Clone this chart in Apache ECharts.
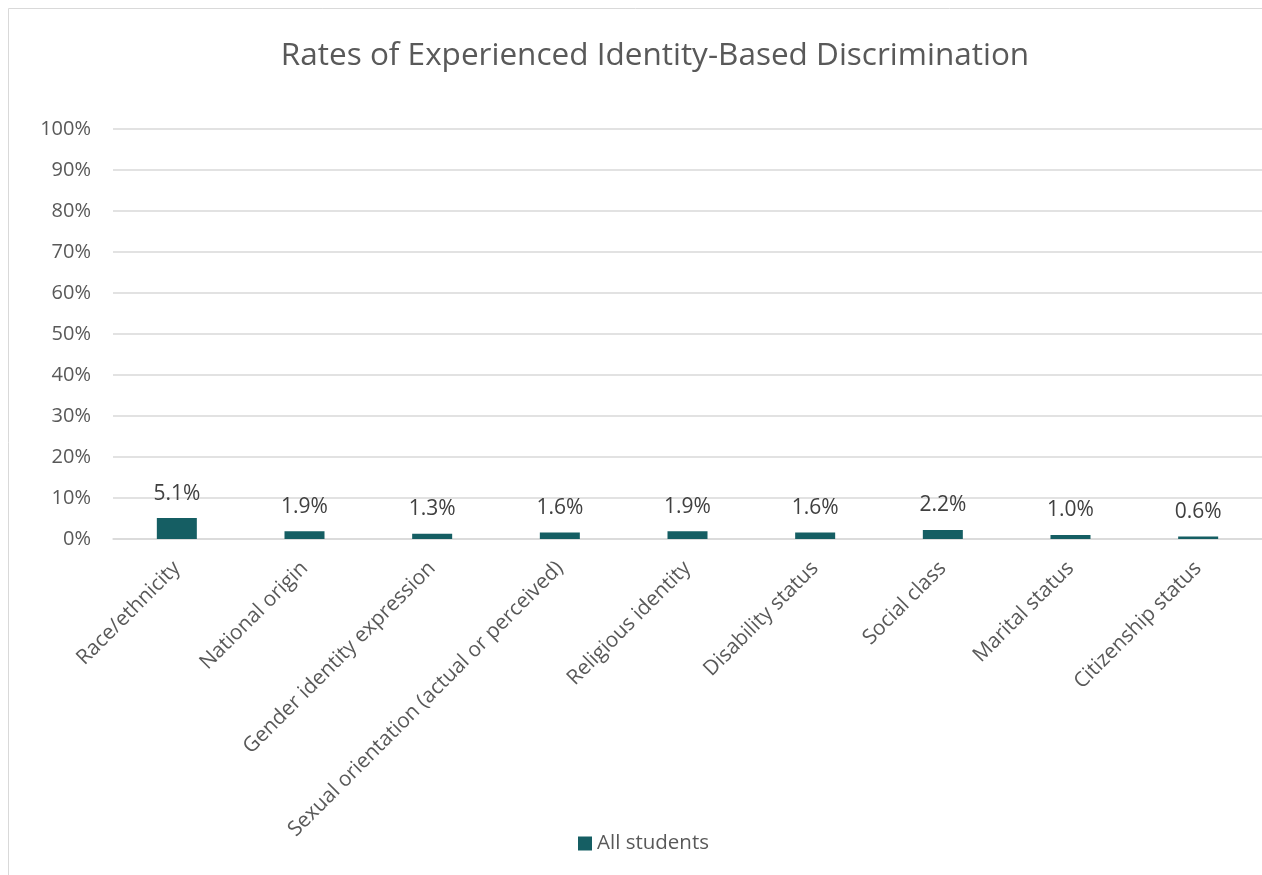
<!DOCTYPE html>
<html>
<head>
<meta charset="utf-8">
<script src="https://cdn.jsdelivr.net/npm/echarts@6/dist/echarts.min.js"></script>
<style>
  html, body { margin: 0; padding: 0; background: #fff; }
  #main { width: 1262px; height: 875px; }
</style>
</head>
<body>
<div id="main"></div>
<script>
const categories = [
  'Race/ethnicity',
  'National origin',
  'Gender identity expression',
  'Sexual orientation (actual or perceived)',
  'Religious identity',
  'Disability status',
  'Social class',
  'Marital status',
  'Citizenship status'
];
const allStudents = [5.1, 1.9, 1.3, 1.6, 1.9, 1.6, 2.2, 1.0, 0.6];
const seriesName = 'All students';
const titleText = 'Rates of Experienced Identity-Based Discrimination';

const FONT = 'Open Sans';
const chart = echarts.init(document.getElementById('main'));

const option = {
  animation: false,
  textStyle: { fontFamily: FONT },
  graphic: [
    {
      type: 'rect',
      shape: { x: 8.5, y: 8.5, width: 1300, height: 900 },
      style: { fill: 'none', stroke: '#d9d9d9', lineWidth: 1 },
      silent: true
    }
  ],
  title: {
    text: titleText,
    left: 650,
    textAlign: 'center',
    top: 35,
    textStyle: { fontFamily: FONT, fontSize: 31.5, fontWeight: 'normal', color: '#595959' }
  },
  legend: {
    data: [seriesName],
    left: 573,
    top: 828,
    icon: 'rect',
    itemWidth: 14,
    itemHeight: 14,
    itemGap: 6,
    textStyle: { fontFamily: FONT, fontSize: 20.5, color: '#595959' }
  },
  grid: {
    left: 113,
    top: 129,
    width: 1152,
    height: 410,
    containLabel: false
  },
  xAxis: {
    type: 'category',
    data: categories,
    axisLine: { lineStyle: { color: '#d9d9d9', width: 1.5 } },
    axisTick: { show: false },
    axisLabel: {
      rotate: 45,
      interval: 0,
      margin: 26,
      fontFamily: FONT,
      fontSize: 20.8,
      color: '#595959'
    }
  },
  yAxis: {
    type: 'value',
    min: 0,
    max: 100,
    interval: 10,
    axisLine: { show: false },
    axisTick: { show: false },
    splitLine: { lineStyle: { color: '#d9d9d9', width: 1.5 } },
    axisLabel: {
      formatter: '{value}%',
      margin: 22,
      fontFamily: FONT,
      fontSize: 20,
      color: '#595959'
    }
  },
  series: [
    {
      name: seriesName,
      type: 'bar',
      data: allStudents,
      barWidth: 40,
      itemStyle: { color: '#155e63' },
      label: {
        show: true,
        position: 'top',
        distance: 14,
        formatter: p => p.value.toFixed(1) + '%',
        fontFamily: FONT,
        fontSize: 21,
        color: '#404040'
      }
    }
  ]
};

chart.setOption(option);
</script>
</body>
</html>
